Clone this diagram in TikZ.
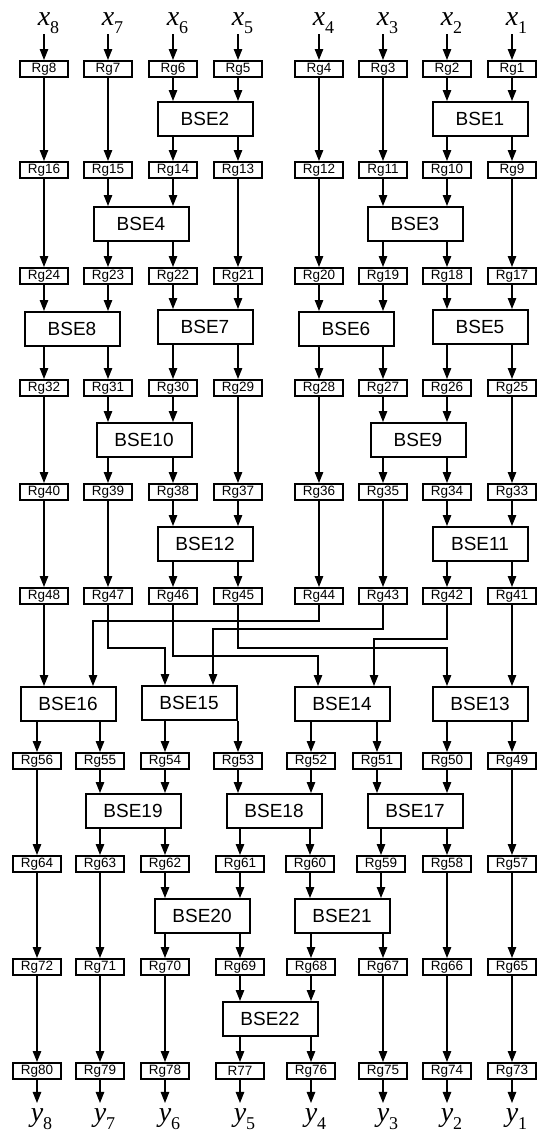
\documentclass[tikz,border=0pt]{standalone}
\usepackage{fontspec}
\setmainfont{Liberation Sans}
\newfontfamily\tms{Liberation Serif}
\usetikzlibrary{arrows.meta}
\newcommand\mysub[2]{#1\rlap{\raisebox{-8pt}{\fontsize{18}{18}\selectfont\upshape #2}}}
\begin{document}
\begin{tikzpicture}[x=1pt,y=-1pt,
  reg/.style={draw, line width=2pt, minimum width=48pt, minimum height=16pt, inner sep=0pt, font=\fontsize{13.5}{13.5}\selectfont},
  bse/.style={draw, line width=2pt, minimum width=95pt, minimum height=34pt, inner sep=0pt, font=\fontsize{19}{19}\selectfont},
  arr/.style={line width=1.1pt, -{Triangle[length=11pt,width=8.5pt]}},
  lab/.style={inner sep=1pt, font=\tms\fontsize{28}{28}\selectfont\itshape}]
\useasboundingbox (0,0) rectangle (543,1133);
% input labels
\foreach \n/\x in {8/44,7/108,6/173,5/238,4/319,3/383,2/447,1/512}
  \node[lab,anchor=base] (x\n) at (\x,25) {\mysub{x}{\n}};
% registers
\foreach \n/\x in {8/44,7/108,6/173,5/238,4/319,3/383,2/447,1/512}
  \node[reg] (Rg\n) at (\x,69) {Rg\n};
\foreach \n/\x in {16/44,15/108,14/173,13/238,12/319,11/383,10/447,9/512}
  \node[reg] (Rg\n) at (\x,170) {Rg\n};
\foreach \n/\x in {24/44,23/108,22/173,21/238,20/319,19/383,18/447,17/512}
  \node[reg] (Rg\n) at (\x,276) {Rg\n};
\foreach \n/\x in {32/44,31/108,30/173,29/238,28/319,27/383,26/447,25/512}
  \node[reg] (Rg\n) at (\x,388) {Rg\n};
\foreach \n/\x in {40/44,39/108,38/173,37/238,36/319,35/383,34/447,33/512}
  \node[reg] (Rg\n) at (\x,492) {Rg\n};
\foreach \n/\x in {48/44,47/108,46/173,45/238,44/319,43/383,42/447,41/512}
  \node[reg] (Rg\n) at (\x,596) {Rg\n};
\foreach \n/\x in {56/37,55/100,54/165,53/238,52/311,51/377,50/447,49/512}
  \node[reg] (Rg\n) at (\x,761) {Rg\n};
\foreach \n/\x in {64/37,63/100,62/165,61/240,60/310,59/381,58/447,57/512}
  \node[reg] (Rg\n) at (\x,864) {Rg\n};
\foreach \n/\x in {72/37,71/100,70/165,69/240,68/311,67/383,66/447,65/512}
  \node[reg] (Rg\n) at (\x,967) {Rg\n};
\foreach \n/\x in {80/37,79/100,78/165,76/311,75/383,74/447,73/512}
  \node[reg] (Rg\n) at (\x,1071) {Rg\n};
\node[reg] (R77) at (240,1071) {R77};
% output labels
\foreach \n/\x in {8/37,7/100,6/165,5/240,4/311,3/383,2/447,1/512}
  \node[lab,anchor=base,inner ysep=5pt] (y\n) at (\x,1121) {\mysub{y}{\n}};
% BSE blocks
\node[bse] (BSE1) at (480,119) {BSE1};
\node[bse] (BSE2) at (205,119) {BSE2};
\node[bse] (BSE3) at (415,224) {BSE3};
\node[bse] (BSE4) at (141,224) {BSE4};
\node[bse] (BSE5) at (480,327) {BSE5};
\node[bse] (BSE6) at (346,329) {BSE6};
\node[bse] (BSE7) at (205,327) {BSE7};
\node[bse] (BSE8) at (72,329) {BSE8};
\node[bse] (BSE9) at (418,440) {BSE9};
\node[bse] (BSE10) at (144,440) {BSE10};
\node[bse] (BSE11) at (480,544) {BSE11};
\node[bse] (BSE12) at (205,544) {BSE12};
\node[bse] (BSE13) at (480,704) {BSE13};
\node[bse] (BSE14) at (342,704) {BSE14};
\node[bse] (BSE15) at (189,703) {BSE15};
\node[bse] (BSE16) at (68,704) {BSE16};
\node[bse] (BSE17) at (415,811) {BSE17};
\node[bse] (BSE18) at (274,811) {BSE18};
\node[bse] (BSE19) at (133,811) {BSE19};
\node[bse] (BSE20) at (202,916) {BSE20};
\node[bse] (BSE21) at (342,916) {BSE21};
\node[bse] (BSE22) at (270,1019) {BSE22};
% input arrows
\foreach \n in {1,...,8} \draw[arr] (x\n) -- (Rg\n);
% straight register-to-register
\foreach \a/\b in {8/16,7/15,4/12,3/11,16/24,13/21,12/20,9/17,32/40,29/37,28/36,25/33,
  40/48,39/47,36/44,35/43,56/64,49/57,64/72,63/71,58/66,57/65,72/80,71/79,70/78,67/75,66/74,65/73}
  \draw[arr] (Rg\a) -- (Rg\b);
% BSE in/out
\foreach \b/\i/\j/\o/\p in {2/6/5/14/13,1/2/1/10/9,4/15/14/23/22,3/11/10/19/18,
  8/24/23/32/31,7/22/21/30/29,6/20/19/28/27,5/18/17/26/25,10/31/30/39/38,9/27/26/35/34,
  12/38/37/46/45,11/34/33/42/41,19/55/54/63/62,18/53/52/61/60,17/51/50/59/58,
  20/62/61/70/69,21/60/59/68/67}{
  \draw[arr] (Rg\i.south) -- (Rg\i.south |- BSE\b.north);
  \draw[arr] (Rg\j.south) -- (Rg\j.south |- BSE\b.north);
  \draw[arr] (BSE\b.south -| Rg\o.north) -- (Rg\o.north);
  \draw[arr] (BSE\b.south -| Rg\p.north) -- (Rg\p.north);
}
\foreach \b/\o/\p in {16/56/55,15/54/53,14/52/51,13/50/49}{
  \draw[arr] (BSE\b.south -| Rg\o.north) -- (Rg\o.north);
  \draw[arr] (BSE\b.south -| Rg\p.north) -- (Rg\p.north);
}
\draw[arr] (Rg69.south) -- (Rg69.south |- BSE22.north);
\draw[arr] (Rg68.south) -- (Rg68.south |- BSE22.north);
\draw[arr] (BSE22.south -| R77.north) -- (R77.north);
\draw[arr] (BSE22.south -| Rg76.north) -- (Rg76.north);
% crossing network
\coordinate (c44) at (93,621);
\coordinate (c43) at (213,629);
\coordinate (c42) at (374,639);
\coordinate (c47) at (165,648);
\coordinate (c45) at (447,648);
\coordinate (c46) at (318,656);
\draw[arr] (Rg48.south) -- (Rg48.south |- BSE16.north);
\draw[arr] (Rg41.south) -- (Rg41.south |- BSE13.north);
\draw[arr] (Rg44.south) |- (c44) -- (c44 |- BSE16.north);
\draw[arr] (Rg47.south) |- (c47) -- (c47 |- BSE15.north);
\draw[arr] (Rg43.south) |- (c43) -- (c43 |- BSE15.north);
\draw[arr] (Rg46.south) |- (c46) -- (c46 |- BSE14.north);
\draw[arr] (Rg42.south) |- (c42) -- (c42 |- BSE14.north);
\draw[arr] (Rg45.south) |- (c45) -- (c45 |- BSE13.north);
% outputs
\foreach \n in {80,79,78,76,75,74,73}{
  \pgfmathtruncatemacro\k{\n-72}
  \draw[arr] (Rg\n) -- (y\k);
}
\draw[arr] (R77) -- (y5);
\end{tikzpicture}
\end{document}
